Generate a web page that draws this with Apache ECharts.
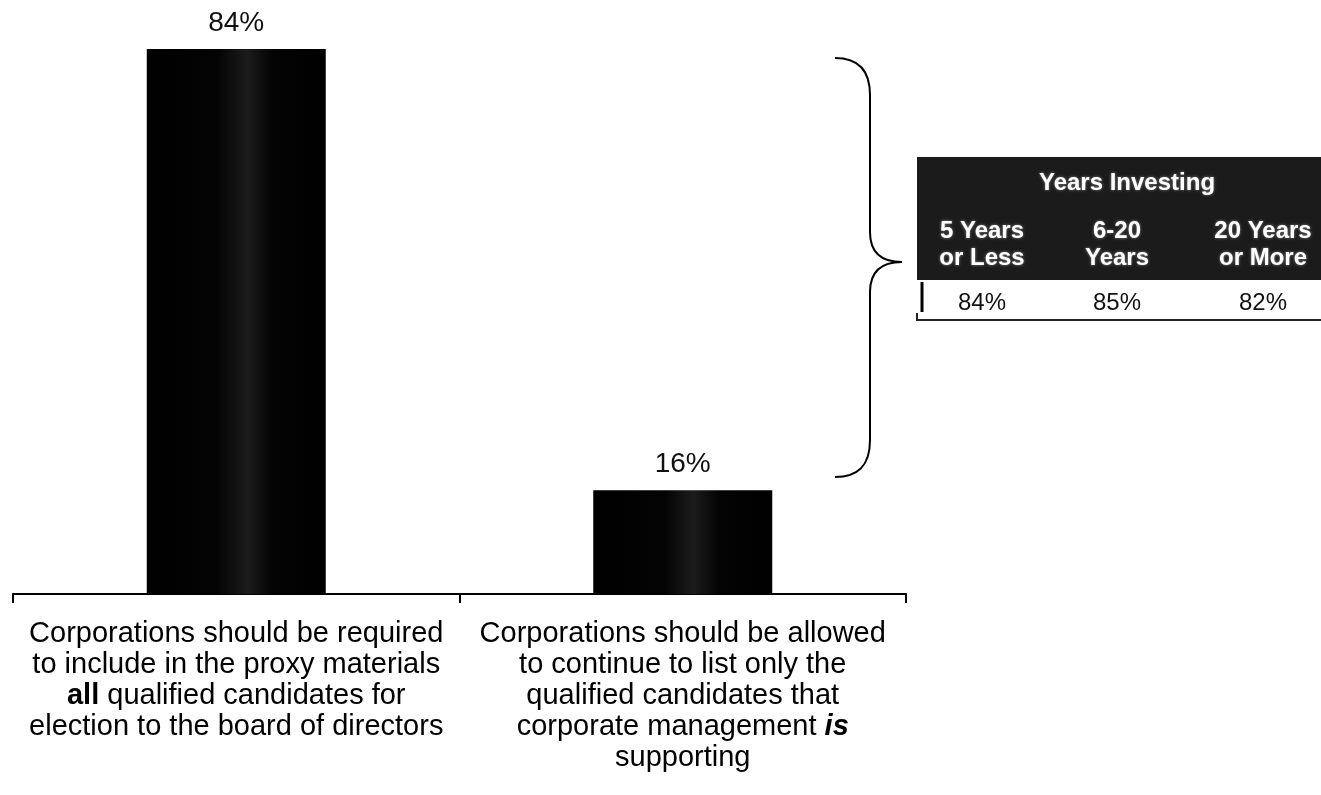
<!DOCTYPE html>
<html>
<head>
<meta charset="utf-8">
<script src="https://cdn.jsdelivr.net/npm/echarts@6/dist/echarts.min.js"></script>
<style>
  html, body { margin: 0; padding: 0; background: #fff; }
  #chart { width: 1321px; height: 795px; }
</style>
</head>
<body>
<div id="chart"></div>
<script>
// Answer options (multi-line, with emphasised words as rich-text tags)
const categories = [
  'Corporations should be required\nto include in the proxy materials\n{b|all} qualified candidates for\nelection to the board of directors',
  'Corporations should be allowed\nto continue to list only the\nqualified candidates that\ncorporate management {bi|is}\nsupporting'
];
// Share of respondents choosing each option (%)
const shares = [84, 16];

// Breakdown of the first option by years investing
const tableTitle = 'Years Investing';
const tableGroups = ['5 Years\nor Less', '6-20\nYears', '20 Years\nor More'];
const tableValues = ['84%', '85%', '82%'];

const FONT = '"Liberation Sans", Arial, sans-serif';

const barFill = new echarts.graphic.LinearGradient(0, 0, 1, 0, [
  { offset: 0, color: '#000' },
  { offset: 0.4, color: '#040404' },
  { offset: 0.56, color: '#1c1c1c' },
  { offset: 0.7, color: '#040404' },
  { offset: 1, color: '#000' }
]);

const lineStyle = { stroke: '#000', lineWidth: 2, fill: null };
function curve(x1, y1, cx1, cy1, cx2, cy2, x2, y2) {
  return {
    type: 'bezierCurve', z: 11,
    shape: { x1, y1, cpx1: cx1, cpy1: cy1, cpx2: cx2, cpy2: cy2, x2, y2 },
    style: lineStyle
  };
}
function seg(x1, y1, x2, y2, stroke, w) {
  return {
    type: 'line', z: 11,
    shape: { x1, y1, x2, y2 },
    style: { stroke: stroke || '#000', lineWidth: w || 2 }
  };
}

// Header / value cells of the side table
const colX = [982, 1117, 1263];
const headerText = {
  fill: '#fff', align: 'center', verticalAlign: 'middle',
  font: 'bold 24px ' + FONT,
  textShadowColor: 'rgba(150,150,150,0.9)', textShadowBlur: 3
};
const tableGraphics = [
  {
    type: 'rect', z: 10,
    shape: { x: 917, y: 157, width: 404, height: 123 },
    style: { fill: '#1b1b1b' }
  },
  {
    type: 'text', x: 1127, y: 183, z: 11,
    style: Object.assign({ text: tableTitle }, headerText)
  },
  ...tableGroups.map((g, i) => ({
    type: 'text', x: colX[i], y: 245, z: 11,
    style: Object.assign({ text: g, lineHeight: 27 }, headerText)
  })),
  ...tableValues.map((v, i) => ({
    type: 'text', x: colX[i], y: 303, z: 11,
    style: {
      text: v, fill: '#111', align: 'center', verticalAlign: 'middle',
      font: '24px ' + FONT
    }
  })),
  seg(922, 282, 922, 312, '#000', 3),
  seg(917, 320, 1321, 320, '#222', 2),
  seg(917, 313, 917, 321, '#222', 2),
  // curly brace linking the first option to its breakdown
  curve(835, 58, 858, 58, 870, 70, 870, 95),
  seg(870, 95, 870, 232),
  curve(870, 232, 870, 252, 880, 262, 902, 262),
  curve(902, 262, 880, 262, 870, 272, 870, 292),
  seg(870, 292, 870, 440),
  curve(870, 440, 870, 466, 858, 477, 835, 477)
];

const chart = echarts.init(document.getElementById('chart'));
chart.setOption({
  animation: false,
  backgroundColor: '#fff',
  grid: { left: 13, right: 415, top: 10, bottom: 201 },
  xAxis: {
    type: 'category',
    data: categories,
    boundaryGap: true,
    axisLine: { lineStyle: { color: '#000', width: 2 } },
    axisTick: { show: true, length: 9, lineStyle: { color: '#000', width: 2 } },
    axisLabel: {
      interval: 0,
      margin: 24,
      color: '#000',
      fontFamily: FONT,
      fontSize: 29,
      lineHeight: 31,
      align: 'center',
      rich: {
        b: { fontWeight: 'bold', fontFamily: FONT, fontSize: 29, lineHeight: 31, color: '#000' },
        bi: { fontWeight: 'bold', fontStyle: 'italic', fontFamily: FONT, fontSize: 29, lineHeight: 31, color: '#000' }
      }
    }
  },
  yAxis: {
    type: 'value', min: 0, max: 90, show: false,
    splitLine: { show: false }
  },
  series: [{
    type: 'bar',
    data: shares,
    barWidth: 179,
    itemStyle: { color: barFill },
    label: {
      show: true, position: 'top', distance: 12,
      formatter: p => p.value + '%',
      fontFamily: FONT, fontSize: 28, color: '#111'
    }
  }],
  graphic: tableGraphics
});
</script>
</body>
</html>
